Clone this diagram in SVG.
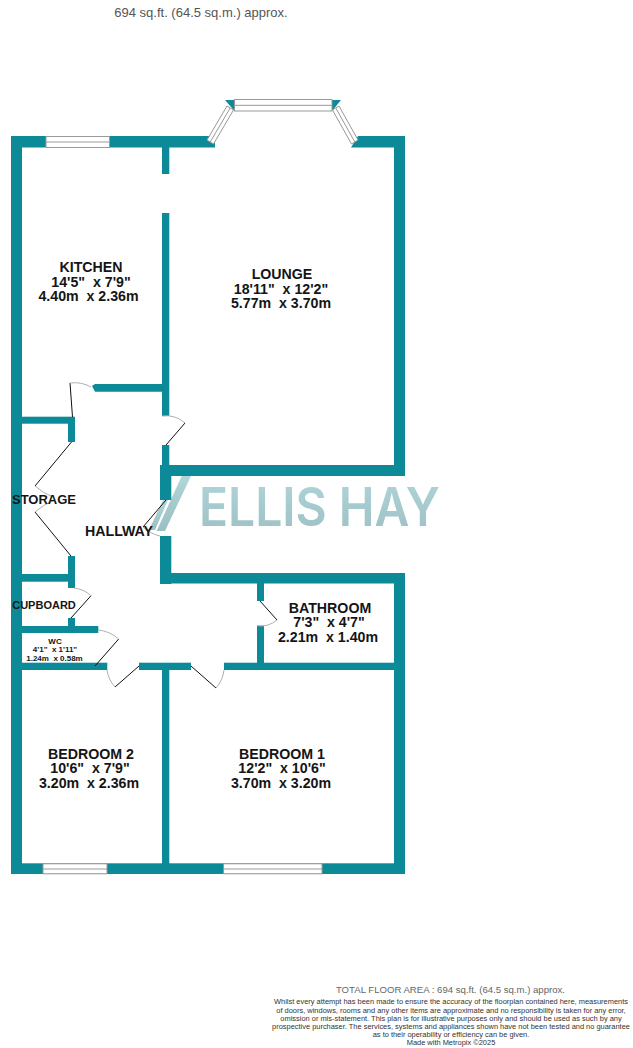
<svg xmlns="http://www.w3.org/2000/svg" width="633" height="1048" viewBox="0 0 633 1048">
<style>
.w{fill:#0c8a97}
.win{fill:#fff;stroke:#999;stroke-width:1}
.ln{fill:none;stroke:#999;stroke-width:1}
.leaf{fill:none;stroke:#111;stroke-width:1}
.arc{fill:none;stroke:#b0b0b0;stroke-width:1}
text{font-family:"Liberation Sans",Arial,sans-serif;white-space:pre}
.r{font-size:14.2px;font-weight:700;fill:#151515;text-anchor:middle}
.s{font-size:8px;font-weight:700;fill:#151515;text-anchor:middle}
.g{fill:#666;font-size:9.6px;text-anchor:middle}
.d{fill:#333;font-size:7.45px;text-anchor:middle}
</style>
<defs>
<linearGradient id="lg" x1="0" y1="0" x2="0" y2="1"><stop offset="0" stop-color="#afd6d9"/><stop offset="1" stop-color="#9cbfc3"/></linearGradient>
</defs>
<g id="logo">
<polygon points="156.700,531 165,531 191,476 181.700,476" fill="url(#lg)"/>
<polygon points="149,530 155,530 168,500 163,500" fill="url(#lg)"/>
<text x="199" y="526" font-size="53" textLength="241" lengthAdjust="spacingAndGlyphs" style="font-family:Inter,'Liberation Sans',sans-serif;font-weight:600" fill="url(#lg)">ELLIS HAY</text>
</g>
<g id="walls">
<rect class="w" x="11" y="136" width="204" height="11.500"/>
<polygon class="w" points="351,147.500 358,136 405,136 405,147.500"/>
<rect class="w" x="11" y="136" width="11" height="738"/>
<rect class="w" x="394" y="136" width="11" height="340"/>
<rect class="w" x="162" y="147" width="7.300" height="27"/>
<rect class="w" x="162" y="213" width="7.300" height="203"/>
<polygon class="w" points="92,386 95,384 162,384 162,391.700 95,391.700"/>
<rect class="w" x="162" y="445" width="7.300" height="21"/>
<rect class="w" x="160" y="465" width="245" height="11"/>
<rect class="w" x="160" y="465" width="11.300" height="35"/>
<rect class="w" x="160" y="536" width="11.300" height="48"/>
<rect class="w" x="160" y="573" width="245" height="10.500"/>
<rect class="w" x="394" y="573" width="11" height="301"/>
<rect class="w" x="22" y="416.700" width="53" height="7"/>
<rect class="w" x="68" y="417" width="7" height="25"/>
<rect class="w" x="68" y="556" width="7" height="32"/>
<rect class="w" x="22" y="574" width="53" height="7.700"/>
<rect class="w" x="68" y="618" width="7" height="10"/>
<rect class="w" x="22" y="626" width="76.300" height="7"/>
<rect class="w" x="22" y="662.700" width="85.300" height="7.300"/>
<rect class="w" x="139" y="662.700" width="52" height="7.300"/>
<rect class="w" x="224" y="662.700" width="181" height="7.300"/>
<rect class="w" x="162" y="663" width="7.300" height="205"/>
<rect class="w" x="257" y="583" width="7" height="18"/>
<rect class="w" x="257" y="625.700" width="7" height="38"/>
<rect class="w" x="11" y="863.300" width="394" height="10.700"/>
<polygon class="w" points="225,100 234.500,100 234.500,111"/>
<polygon class="w" points="341,100 332,100 332,111"/>
</g>
<g id="windows">
<rect class="win" x="46" y="136.500" width="63.500" height="11"/><path class="ln" d="M46 142H109.500"/>
<rect class="win" x="43" y="863.800" width="64" height="10"/><path class="ln" d="M43 869H107"/>
<rect class="win" x="223.500" y="863.800" width="98.500" height="10"/><path class="ln" d="M223.500 869H322"/>
<rect class="win" x="234.500" y="99.500" width="97.500" height="11.500"/><path class="ln" d="M234.500 105.300H332"/>
<polygon class="win" points="207,140 213.500,144 233.500,110 227,106"/><path class="ln" d="M210.200 142L230.200 108"/>
<polygon class="win" points="358,140 351.500,144 332.500,110 339,106"/><path class="ln" d="M354.800 142L335.800 108"/>
</g>
<g id="doors">
<path class="leaf" d="M72.500 417L70 383"/><path class="arc" d="M70 383A34 34 0 0 1 91 387"/>
<path class="leaf" d="M166 445L185 423"/><path class="arc" d="M162 416A29 29 0 0 1 185 423"/>
<path class="leaf" d="M71.500 442L35 486"/><path class="arc" d="M35 486A58 58 0 0 0 53 497"/>
<path class="leaf" d="M71 556L35 512"/><path class="arc" d="M35 512A58 58 0 0 1 53 501"/>
<path class="leaf" d="M166 500L143 527"/><path class="arc" d="M143 527A36 36 0 0 0 160 536"/>
<path class="leaf" d="M71 618L91 595.700"/><path class="arc" d="M74 588A30 30 0 0 1 91 595.700"/>
<path class="leaf" d="M95 666L118.700 639"/><path class="arc" d="M98 630A36 36 0 0 1 118.700 639"/>
<path class="leaf" d="M139 666L115 687"/><path class="arc" d="M107 670A32 32 0 0 0 115 687"/>
<path class="leaf" d="M191 666L216 688"/><path class="arc" d="M224 670A33 33 0 0 1 216 688"/>
<path class="leaf" d="M260 601L277 620"/><path class="arc" d="M277 620A25 25 0 0 1 257 625.700"/>
</g>
<g id="labels">
<text x="201" y="17" text-anchor="middle" font-size="13" fill="#555">694 sq.ft. (64.5 sq.m.) approx.</text>
<text class="r" x="91" y="272">KITCHEN</text><text class="r" x="91" y="287">14'5"  x 7'9"</text><text class="r" x="88.500" y="301">4.40m  x 2.36m</text>
<text class="r" x="282" y="279">LOUNGE</text><text class="r" x="281" y="294">18'11"  x 12'2"</text><text class="r" x="281" y="308">5.77m  x 3.70m</text>
<text class="r" x="44" y="504" style="font-size:13px">STORAGE</text>
<text class="r" x="119" y="536">HALLWAY</text>
<text class="r" x="44" y="609" style="font-size:11px">CUPBOARD</text>
<text class="s" x="55" y="644">WC</text><text class="s" x="55" y="652">4'1"  x 1'11"</text><text class="s" x="54.500" y="660.500">1.24m  x 0.58m</text>
<text class="r" x="330" y="613">BATHROOM</text><text class="r" x="329" y="627">7'3"  x 4'7"</text><text class="r" x="328" y="642">2.21m  x 1.40m</text>
<text class="r" x="91" y="759">BEDROOM 2</text><text class="r" x="90" y="773">10'6"  x 7'9"</text><text class="r" x="89" y="788">3.20m  x 2.36m</text>
<text class="r" x="282" y="759">BEDROOM 1</text><text class="r" x="282" y="773">12'2"  x 10'6"</text><text class="r" x="281" y="788">3.70m  x 3.20m</text>
</g>
<g id="footer">
<text class="g" x="450.500" y="993">TOTAL FLOOR AREA : 694 sq.ft. (64.5 sq.m.) approx.</text>
<text class="d" x="451" y="1004">Whilst every attempt has been made to ensure the accuracy of the floorplan contained here, measurements</text>
<text class="d" x="451" y="1012.500">of doors, windows, rooms and any other items are approximate and no responsibility is taken for any error,</text>
<text class="d" x="451" y="1020.500">omission or mis-statement. This plan is for illustrative purposes only and should be used as such by any</text>
<text class="d" x="451" y="1029">prospective purchaser. The services, systems and appliances shown have not been tested and no guarantee</text>
<text class="d" x="451" y="1037">as to their operability or efficiency can be given.</text>
<text class="d" x="451" y="1045">Made with Metropix ©2025</text>
</g>
</svg>
